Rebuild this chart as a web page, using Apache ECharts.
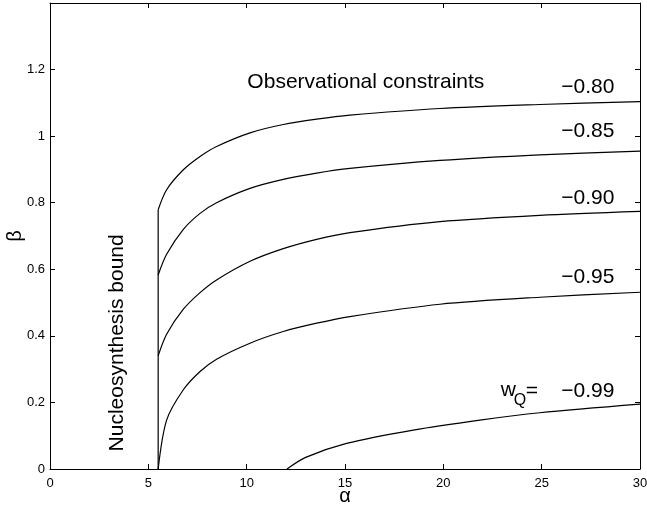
<!DOCTYPE html>
<html>
<head>
<meta charset="utf-8">
<script src="https://cdn.jsdelivr.net/npm/echarts@6/dist/echarts.min.js"></script>
<style>
  html, body { margin: 0; padding: 0; background: #fff; }
  #main { width: 647px; height: 506px; }
</style>
</head>
<body>
<div id="main"></div>
<script>
// alpha grid shared by the four upper curves
var alphaGrid = [5.5, 5.93, 6.78, 7.63, 8.47, 10.17, 11.86, 13.56, 15.25, 19.83, 24.9, 30];
var beta080 = [0.779, 0.839, 0.899, 0.939, 0.969, 1.010, 1.035, 1.051, 1.063, 1.083, 1.095, 1.104];
var beta085 = [0.583, 0.645, 0.720, 0.768, 0.800, 0.843, 0.870, 0.889, 0.903, 0.927, 0.944, 0.955];
var beta090 = [0.340, 0.405, 0.480, 0.530, 0.568, 0.624, 0.662, 0.690, 0.710, 0.743, 0.762, 0.774];
var beta095 = [0.000, 0.147, 0.238, 0.293, 0.330, 0.378, 0.413, 0.438, 0.458, 0.495, 0.516, 0.531];
// w = -0.99 starts further right
var alpha099 = [12.05, 13, 15.08, 18.47, 21.86, 24.9, 30];
var beta099 = [0, 0.035, 0.077, 0.117, 0.147, 0.169, 0.195];
// nucleosynthesis bound
var boundAlpha = [5.5, 5.5];
var boundBeta = [0, 0.779];

// curve labels (data coords)
var curveLabels = ['−0.80', '−0.85', '−0.90', '−0.95', '−0.99'];
var curveLabelAlpha = [27.35, 27.35, 27.35, 27.35, 27.35];
var curveLabelBeta = [1.146, 1.014, 0.815, 0.577, 0.235];

var FONT = 'Liberation Sans, Arial, Helvetica, sans-serif';

function pairs(xs, ys) {
    return xs.map(function (x, i) { return [x, ys[i]]; });
}

var chartDom = document.getElementById('main');
var myChart = echarts.init(chartDom);
var option;

var curveStyle = {
    type: 'line',
    symbol: 'none',
    smooth: 0.3,
    lineStyle: { color: '#000', width: 1.2 },
    animation: false
};

function curve(data) {
    return Object.assign({}, curveStyle, { data: data });
}

var tickStyle = { show: true, inside: true, length: 5, lineStyle: { color: '#000' } };
var lineStyle = { show: true, onZero: false, lineStyle: { color: '#000', width: 1 } };

option = {
    animation: false,
    grid: { left: 50, right: 7, top: 3, bottom: 37, show: false, containLabel: false, outerBoundsMode: 'none' },
    xAxis: [
        {
            type: 'value', min: 0, max: 30, interval: 5,
            axisLine: lineStyle, axisTick: tickStyle, splitLine: { show: false },
            axisLabel: { color: '#000', fontSize: 13, fontFamily: FONT, margin: 8 }
        },
        {
            type: 'value', min: 0, max: 30, interval: 5, position: 'top',
            axisLine: lineStyle, axisTick: tickStyle, splitLine: { show: false },
            axisLabel: { show: false }
        }
    ],
    yAxis: [
        {
            type: 'value', min: 0, max: 1.4, interval: 0.2,
            axisLine: lineStyle, axisTick: tickStyle, splitLine: { show: false },
            axisLabel: {
                color: '#000', fontSize: 13, fontFamily: FONT, margin: 5,
                formatter: function (v) { return v > 1.3 ? '' : String(+v.toFixed(1)); }
            }
        },
        {
            type: 'value', min: 0, max: 1.4, interval: 0.2, position: 'right',
            axisLine: lineStyle, axisTick: tickStyle, splitLine: { show: false },
            axisLabel: { show: false }
        }
    ],
    series: [
        curve(pairs(boundAlpha, boundBeta)),
        curve(pairs(alphaGrid, beta080)),
        curve(pairs(alphaGrid, beta085)),
        curve(pairs(alphaGrid, beta090)),
        curve(pairs(alphaGrid, beta095)),
        curve(pairs(alpha099, beta099))
    ]
};
myChart.setOption(option);

// text annotations placed through the grid's coordinate system
function px(a, b) { return myChart.convertToPixel({ gridIndex: 0 }, [a, b]); }
var txt = { fill: '#000', fontFamily: FONT, fontSize: 21, align: 'center', verticalAlign: 'middle' };
var graphics = [];
curveLabels.forEach(function (t, i) {
    var p = px(curveLabelAlpha[i], curveLabelBeta[i]);
    graphics.push({ type: 'text', x: p[0], y: p[1], style: Object.assign({}, txt, { text: t }) });
});
var pObs = px(16.06, 1.162);
graphics.push({ type: 'text', x: pObs[0], y: pObs[1], style: Object.assign({}, txt, { text: 'Observational constraints' }) });
var pNuc = px(3.41, 0.379);
graphics.push({ type: 'text', x: pNuc[0], y: pNuc[1], rotation: Math.PI / 2, style: Object.assign({}, txt, { text: 'Nucleosynthesis bound' }) });
// w_Q =
var pW = px(23.3, 0.236);
graphics.push({ type: 'text', x: pW[0], y: pW[1], style: Object.assign({}, txt, { text: 'w' }) });
var pQ = px(23.9, 0.205);
graphics.push({ type: 'text', x: pQ[0], y: pQ[1], style: Object.assign({}, txt, { text: 'Q', fontSize: 16 }) });
var pEq = px(24.5, 0.235);
graphics.push({ type: 'text', x: pEq[0], y: pEq[1], style: Object.assign({}, txt, { text: '=' }) });

// axis titles
var pA = px(15, 0);
graphics.push({ type: 'text', x: pA[0], y: pA[1] + 27, style: Object.assign({}, txt, { text: 'α', fontSize: 20 }) });
var pB = px(0, 0.7);
graphics.push({ type: 'text', x: pB[0] - 35, y: pB[1], rotation: Math.PI / 2, style: Object.assign({}, txt, { text: 'β', fontSize: 20 }) });

myChart.setOption({ graphic: graphics });
</script>
</body>
</html>
